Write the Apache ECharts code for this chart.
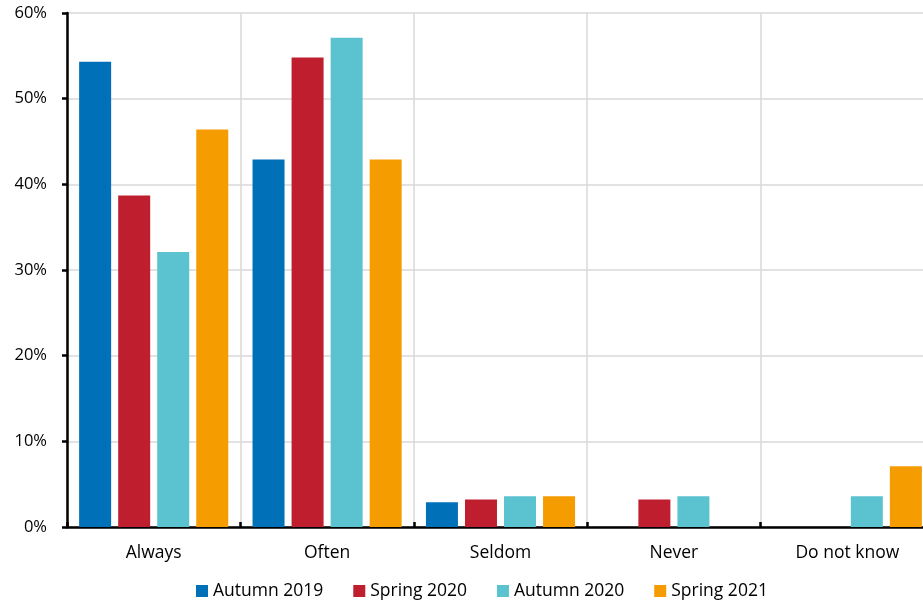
<!DOCTYPE html>
<html>
<head>
<meta charset="utf-8">
<script src="https://cdn.jsdelivr.net/npm/echarts@6/dist/echarts.min.js"></script>
<style>
  html, body { margin: 0; padding: 0; background: #fff; }
  #chart { width: 923px; height: 604px; }
</style>
</head>
<body>
<div id="chart"></div>
<script>
// Answer categories along the x axis
const categories = ['Always', 'Often', 'Seldom', 'Never', 'Do not know'];

// Share of respondents (%) per survey round
const autumn2019 = [54.3, 42.9, 2.9, 0, 0];
const spring2020 = [38.7, 54.8, 3.2, 3.2, 0];
const autumn2020 = [32.1, 57.1, 3.6, 3.6, 3.6];
const spring2021 = [46.4, 42.9, 3.6, 0, 7.1];

const seriesNames = ['Autumn 2019', 'Spring 2020', 'Autumn 2020', 'Spring 2021'];
const seriesData = [autumn2019, spring2020, autumn2020, spring2021];
const seriesColors = ['#0070b8', '#be1e2d', '#5bc2d0', '#f59c00'];

const FONT = '"Open Sans", Lato, sans-serif';

const chart = echarts.init(document.getElementById('chart'), null, { renderer: 'canvas' });

chart.setOption({
  animation: false,
  textStyle: { fontFamily: FONT },
  // the last category runs slightly past the right edge of the canvas
  grid: { left: 67, top: 13, width: 867, bottom: 77, containLabel: false, outerBoundsMode: 'none' },
  legend: {
    bottom: -1,
    left: 191,
    itemWidth: 12,
    itemHeight: 12,
    itemGap: 30,
    icon: 'rect',
    textStyle: { fontFamily: FONT, fontSize: 17.5, color: '#000' },
    data: seriesNames
  },
  xAxis: {
    type: 'category',
    data: categories,
    axisLine: { lineStyle: { color: '#000', width: 2.5 } },
    axisTick: { show: true, inside: true, length: 5, interval: 0, lineStyle: { color: '#000', width: 2.5 } },
    splitLine: { show: true, interval: 0, lineStyle: { color: '#d9d9d9', width: 1.5 } },
    axisLabel: { fontFamily: FONT, fontSize: 17.5, color: '#000', margin: 17, interval: 0 }
  },
  yAxis: {
    type: 'value',
    min: 0,
    max: 60,
    interval: 10,
    axisLine: { show: true, lineStyle: { color: '#000', width: 2.5 } },
    axisTick: { show: true, inside: false, length: 5, lineStyle: { color: '#000', width: 2.5 } },
    splitLine: { show: true, lineStyle: { color: '#d9d9d9', width: 1.5 } },
    axisLabel: { fontFamily: FONT, fontSize: 16.5, color: '#000', margin: 20, formatter: '{value}%' }
  },
  series: seriesNames.map((name, i) => ({
    name: name,
    type: 'bar',
    data: seriesData[i],
    barWidth: 32,
    barGap: '22%',
    itemStyle: { color: seriesColors[i], borderWidth: 0 }
  }))
});
</script>
</body>
</html>
